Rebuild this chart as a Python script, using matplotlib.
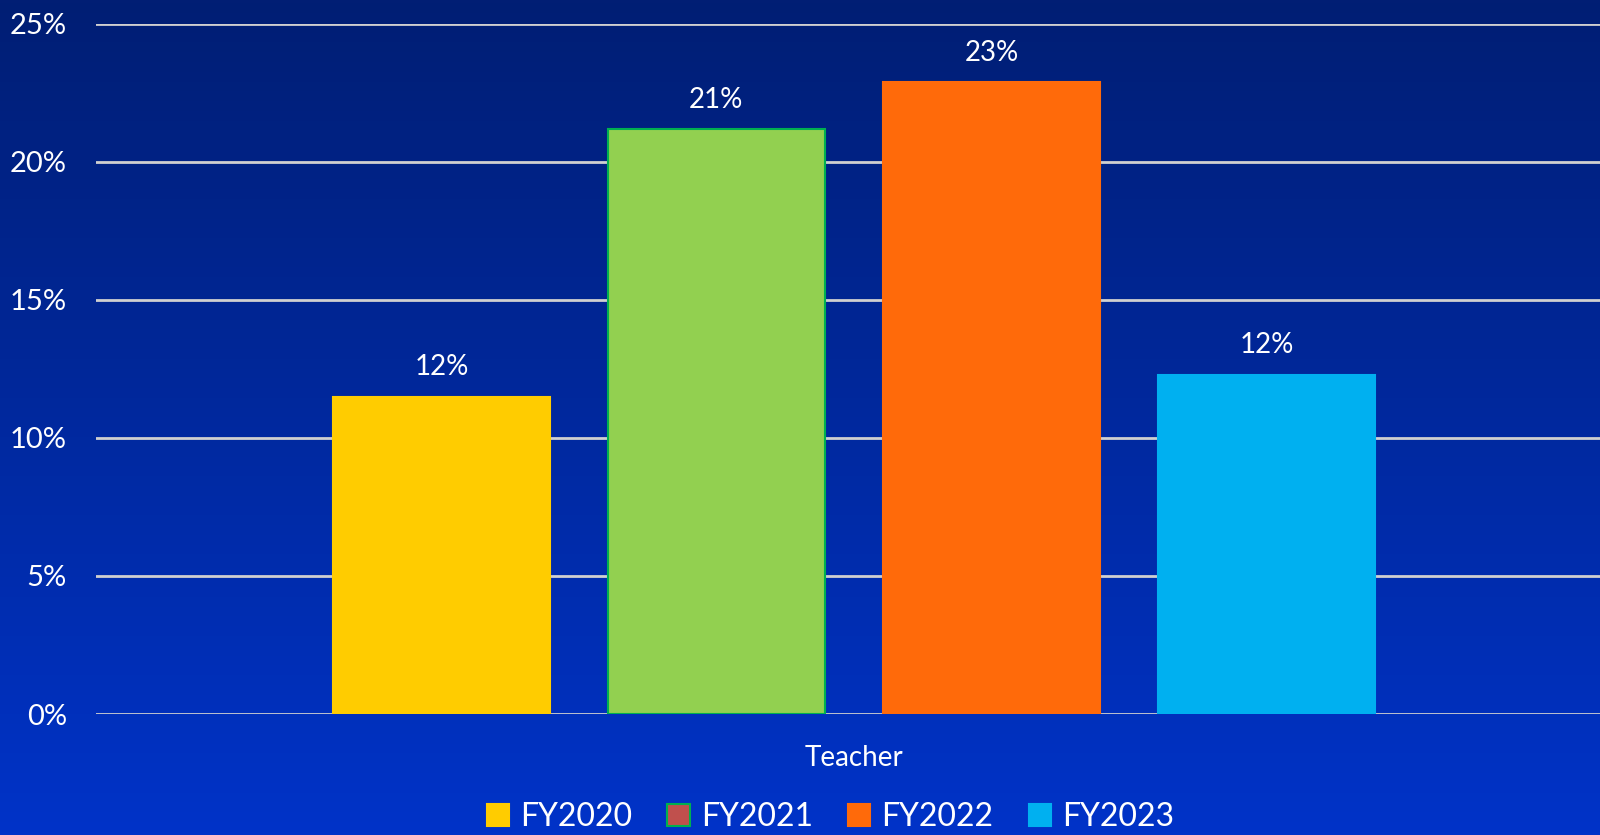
import matplotlib.pyplot as plt
import matplotlib.patches as mpatches
import numpy as np

# survey share per fiscal year
category = "Teacher"
years = ["FY2020", "FY2021", "FY2022", "FY2023"]
shares = [0.115, 0.212, 0.229, 0.123]
bar_colors = ["#ffcc00", "#92d050", "#ff6a0a", "#00b0f0"]
edge_colors = ["#ffcc00", "#00b050", "#ff6a0a", "#00b0f0"]
legend_colors = ["#ffcc00", "#c0504d", "#ff6a0a", "#00b0f0"]
yticks = [0, 0.05, 0.10, 0.15, 0.20, 0.25]

plt.rcParams['font.family'] = ['Lato', 'DejaVu Sans']

fig = plt.figure(figsize=(16, 8.35), dpi=100)

# gradient background over the whole figure
bg = fig.add_axes([0, 0, 1, 1], zorder=-10)
grad = np.linspace(0, 1, 256).reshape(-1, 1)
top = np.array([0x01, 0x1e, 0x74]) / 255
bot = np.array([0x00, 0x33, 0xc8]) / 255
img = top + (bot - top) * grad[:, :, None]
bg.imshow(img, aspect='auto', extent=[0, 1, 0, 1])
bg.axis('off')

ax = fig.add_axes([0.06, 0.1449, 0.94, 0.8264])
ax.patch.set_alpha(0)

x = np.arange(len(years))
bars = ax.bar(x, shares, width=0.79, color=bar_colors, edgecolor=edge_colors,
              linewidth=1.5, zorder=3)

for xi, v in zip(x, shares):
    ax.annotate(f"{v:.0%}", (xi, v), xytext=(0, 21), textcoords='offset points',
                ha='center', va='center', color='white', fontsize=20)

ax.set_ylim(0, 0.25)
ax.set_xlim(-1.256, 4.213)
ax.set_yticks(yticks)
ax.set_yticklabels([f"{int(round(t*100))}%" for t in yticks], color='white', fontsize=21)
ax.set_xticks([1.5])
ax.set_xticklabels([category], color='white', fontsize=20)
ax.tick_params(axis='both', length=0)
ax.tick_params(axis='y', pad=21)
ax.tick_params(axis='x', pad=22)
ax.grid(axis='y', color='#d0d0d0', linewidth=2, zorder=0)
for s in ax.spines.values():
    s.set_visible(False)

handles = [mpatches.Patch(facecolor=c, edgecolor=e, linewidth=1.5, label=y)
           for c, e, y in zip(legend_colors, edge_colors, years)]
fig.legend(handles=handles, loc='center', bbox_to_anchor=(0.519, 0.021), ncol=4,
           frameon=False, fontsize=23, labelcolor='white', handlelength=0.7,
           handleheight=0.7, handletextpad=0.35, columnspacing=1.1)

fig.savefig("out.png", dpi=100)
